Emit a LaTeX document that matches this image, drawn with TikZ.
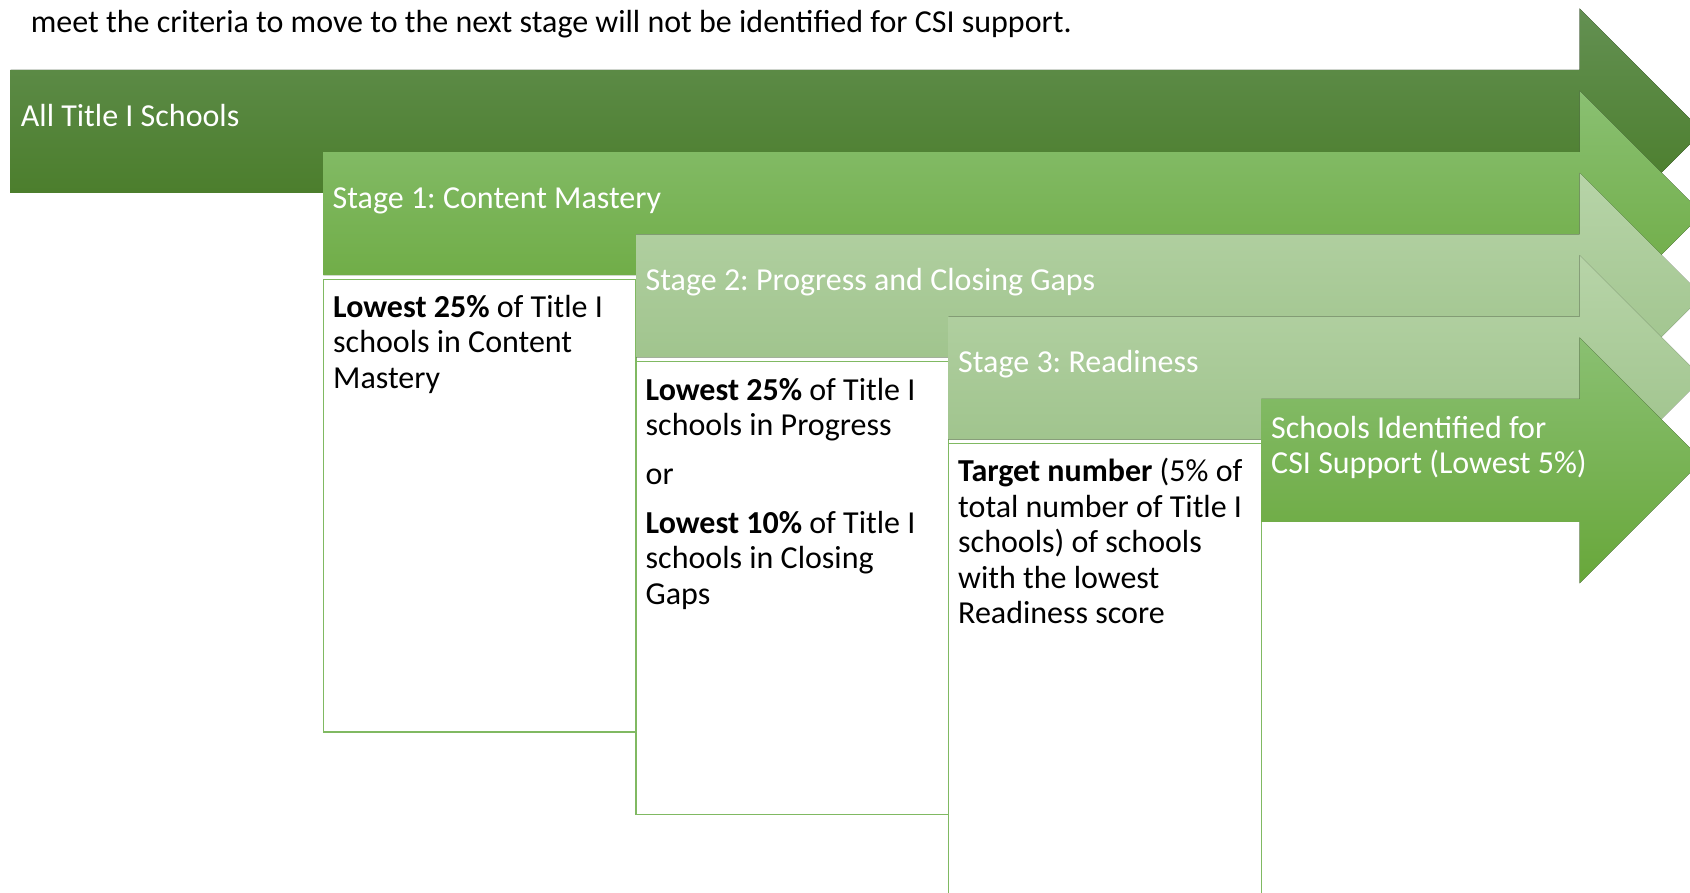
\documentclass[tikz,border=0pt]{standalone}
\usepackage{fontspec}
\setmainfont{Carlito}
\frenchspacing

\definecolor{oscuroA}{RGB}{99,144,82}
\definecolor{oscuroB}{RGB}{68,120,32}
\definecolor{medioA}{RGB}{138,192,114}
\definecolor{medioB}{RGB}{104,167,58}
\definecolor{claroA}{RGB}{183,212,168}
\definecolor{claroB}{RGB}{153,191,133}
\definecolor{borde}{RGB}{128,185,98}

\begin{document}
\begin{tikzpicture}[x=1pt,y=-1pt,
  etiq/.style={inner sep=0pt,anchor=base west,text=white,font={\fontsize{32}{35.5}\selectfont}},
  texto/.style={inner sep=0pt,anchor=base west,text width=300pt,align=flush left,font={\fontsize{32}{35.5}\selectfont}},
  caja/.style={draw=borde,line width=1.3pt,fill=white}]
   \useasboundingbox (0,0) rectangle (1690,893);
   \clip (0,0) rectangle (1690,893);

   %texto superior
   \node[etiq,text=black] (note) at (30.7,32.3) {meet the criteria to move to the next stage will not be identified for CSI support.};

   %cajas
   \draw[caja] (323.3,279.2) rectangle (636,732);
   \draw[caja] (636,361.4) rectangle (948.6,814.2);
   \draw[caja] (948.6,443.6) rectangle (1261.3,896.4);

   %flechas
   \fill[top color=oscuroA,bottom color=oscuroB] (10.7,70) -- (1579.5,70) -- (1579.5,8.5) -- (1702.5,131.5) -- (1579.5,254.5) -- (1579.5,193) -- (10.7,193) -- cycle;
   \fill[top color=medioA,bottom color=medioB] (323.3,152.2) -- (1579.5,152.2) -- (1579.5,90.7) -- (1702.5,213.7) -- (1579.5,336.7) -- (1579.5,275.2) -- (323.3,275.2) -- cycle;
   \fill[top color=claroA,bottom color=claroB] (636,234.4) -- (1579.5,234.4) -- (1579.5,172.9) -- (1702.5,295.9) -- (1579.5,418.9) -- (1579.5,357.4) -- (636,357.4) -- cycle;
   \fill[top color=claroA,bottom color=claroB] (948.6,316.6) -- (1579.5,316.6) -- (1579.5,255.1) -- (1702.5,378.1) -- (1579.5,501.1) -- (1579.5,439.6) -- (948.6,439.6) -- cycle;
   \fill[top color=medioA,bottom color=medioB] (1261.3,398.8) -- (1579.5,398.8) -- (1579.5,337.3) -- (1702.5,460.3) -- (1579.5,583.3) -- (1579.5,521.8) -- (1261.3,521.8) -- cycle;

   %etiquetas de las flechas
   \node[etiq] (all) at (20.7,127) {All Title I Schools};
   \node[etiq] (st1) at (332.5,209) {Stage 1: Content Mastery};
   \node[etiq] (st2) at (645.5,291) {Stage 2: Progress and Closing Gaps};
   \node[etiq] (st3) at (958,373) {Stage 3: Readiness};
   \node[etiq,text width=420pt,align=flush left,font={\fontsize{32}{35.5}\selectfont}] (csi) at (1271,438.5) {Schools Identified for\\CSI Support (Lowest 5\%)};

   %texto de las cajas
   \node[texto] (txt1) at (333,317.5) {\textbf{Lowest 25\%} of Title I\\schools in Content\\Mastery};
   \node[texto] (txt2) at (645.5,400.5) {\textbf{Lowest 25\%} of Title I\\schools in Progress\\[13pt]or\\[13pt]\textbf{Lowest 10\%} of Title I\\schools in Closing\\Gaps};
   \node[texto] (txt3) at (958,481.5) {\textbf{Target number} (5\% of\\total number of Title I\\schools) of schools\\with the lowest\\Readiness score};
\end{tikzpicture}
\end{document}
